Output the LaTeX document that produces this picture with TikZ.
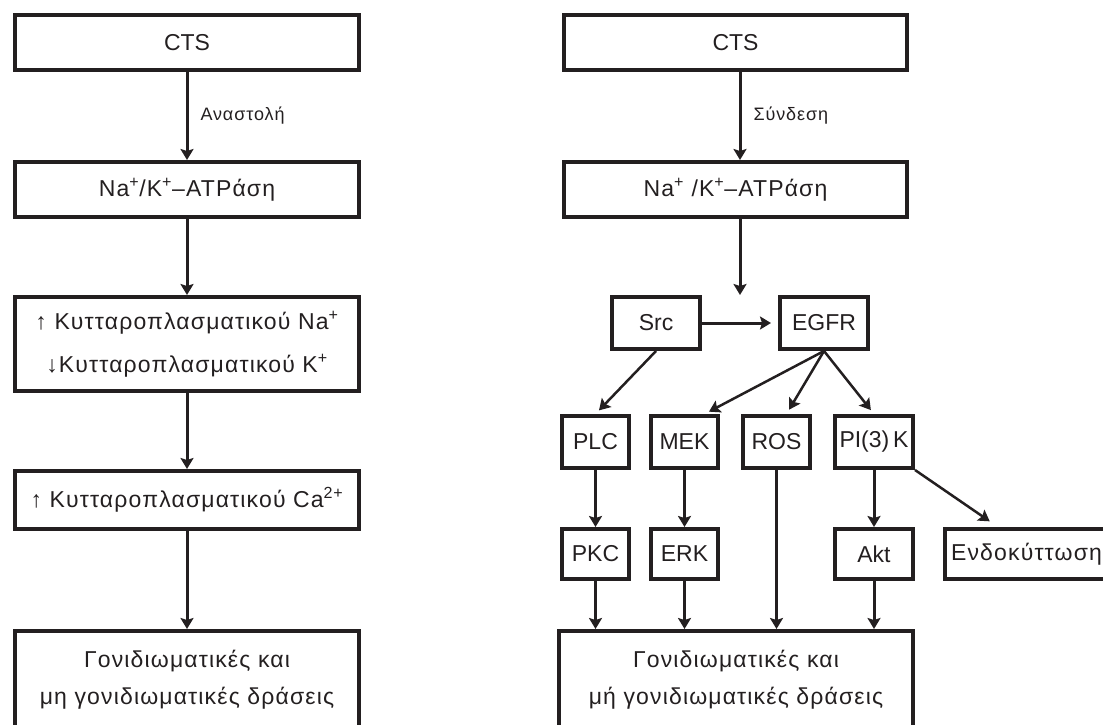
\documentclass[tikz,border=0pt]{standalone}
\usepackage{fontspec}
\setmainfont{Liberation Sans}
\newfontfamily\grk[LetterSpace=5]{Liberation Sans}
\usetikzlibrary{arrows.meta}
\definecolor{ink}{HTML}{231F20}
\begin{document}
\begin{tikzpicture}[x=1pt,y=1pt]
		\tikzstyle{every node}+=[inner sep=0pt, text=ink, font=\fontsize{23}{37}\selectfont]
		\tikzstyle{box}=[draw=ink, line width=4pt, align=center]
		\tikzstyle{grbox}=[box, font=\grk\fontsize{23}{37}\selectfont]
		\tikzstyle{lbl}=[font=\grk\fontsize{18}{20}\selectfont, anchor=west]
		\tikzstyle{flow}=[draw=ink, line width=3pt, -{Stealth[length=11pt,width=13pt,inset=2pt]}]
		\tikzstyle{flowd}=[flow, line width=2.5pt, shorten >=5pt]
		\useasboundingbox (0,0) rectangle (1103,-725);
		\clip (0,0) rectangle (1103,-725);
		\node [box, minimum width=344, minimum height=55] (cts1) at (187,-42.5) {CTS};
		\node [grbox, minimum width=344, minimum height=55] (nak1) at (187,-189.5) {Na\textsuperscript{+}/K\textsuperscript{+}–ATPάση};
		\node [grbox, minimum width=344, minimum height=94] (cyt1) at (187,-344) {↑ Κυτταροπλασματικού Na\textsuperscript{+}\\[6pt]↓Κυτταροπλασματικού K\textsuperscript{+}};
		\node [grbox, minimum width=344, minimum height=58] (ca1) at (187,-500) {↑ Κυτταροπλασματικού Ca\textsuperscript{2+}};
		\node [grbox, minimum width=344, minimum height=98] (gen1) at (187,-680) {Γονιδιωματικές και\\μη γονιδιωματικές δράσεις};
		\node [box, minimum width=343, minimum height=55] (cts2) at (735.5,-42.5) {CTS};
		\node [grbox, minimum width=343, minimum height=55] (nak2) at (735.5,-189.5) {Na\textsuperscript{+} /K\textsuperscript{+}–ATPάση};
		\coordinate (split) at (740,-295);
		\node [box, minimum width=88, minimum height=52] (src) at (656,-323) {Src};
		\node [box, minimum width=88, minimum height=52] (egfr) at (824,-323) {EGFR};
		\node [box, minimum width=67, minimum height=52] (plc) at (595.5,-442) {PLC};
		\node [box, minimum width=67, minimum height=52] (mek) at (684.5,-442) {MEK};
		\node [box, minimum width=67, minimum height=52] (ros) at (776.5,-442) {ROS};
		\node [box, minimum width=78, minimum height=52] (pik) at (874,-442) {PI(3)\,K};
		\node [box, minimum width=67, minimum height=50] (pkc) at (595.5,-554) {PKC};
		\node [box, minimum width=67, minimum height=50] (erk) at (684.5,-554) {ERK};
		\node [box, minimum width=78, minimum height=50] (akt) at (874,-554) {Akt};
		\node [grbox, minimum width=163, minimum height=50] (endo) at (1026.5,-554) {Ενδοκύττωση};
		\node [grbox, minimum width=354, minimum height=98] (gen2) at (736,-680) {Γονιδιωματικές και\\μή γονιδιωματικές δράσεις};
		\draw [flow] (cts1) -- node [lbl, right=12pt] {Αναστολή} (nak1);
		\draw [flow] (nak1) -- (cyt1);
		\draw [flow] (cyt1) -- (ca1);
		\draw [flow] (ca1) -- (gen1);
		\draw [flow] (cts2.south -| split) -- node [lbl, right=12pt] {Σύνδεση} (nak2.north -| split);
		\draw [flow] (nak2.south -| split) -- (split);
		\draw [flow, shorten >=7pt] (src) -- (egfr);
		\draw [flowd] (src.south) -- (plc.north);
		\draw [flowd] (egfr.south) -- ([xshift=20pt]mek.north);
		\draw [flowd] (egfr.south) -- ([xshift=10pt]ros.north);
		\draw [flowd] (egfr.south) -- (pik.north);
		\draw [flow] (plc) -- (pkc);
		\draw [flow] (mek) -- (erk);
		\draw [flow] (pik) -- (akt);
		\draw [flowd, shorten >=10pt] (pik.south east) -- ([xshift=55pt]endo.north west);
		\draw [flow] (pkc) -- (pkc.south |- gen2.north);
		\draw [flow] (erk) -- (erk.south |- gen2.north);
		\draw [flow] (ros) -- (ros.south |- gen2.north);
		\draw [flow] (akt) -- (akt.south |- gen2.north);
	\end{tikzpicture}
\end{document}
